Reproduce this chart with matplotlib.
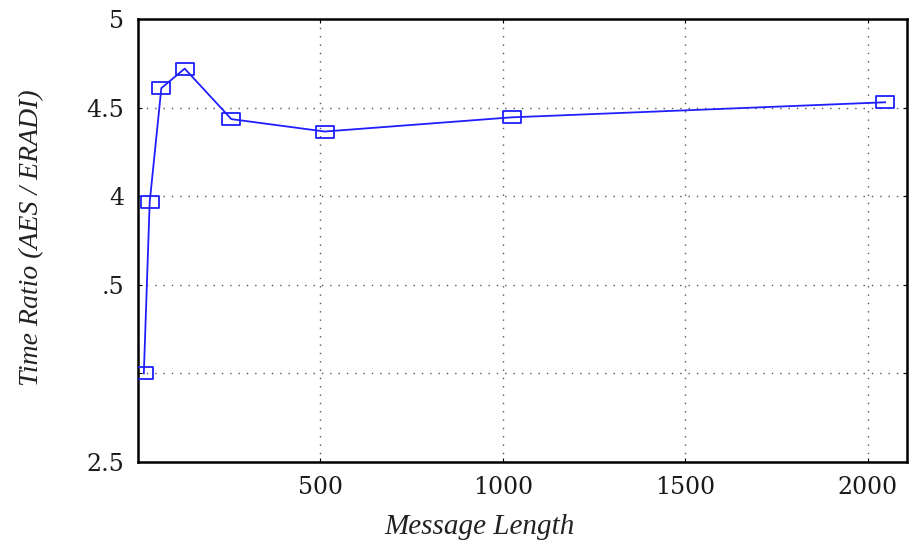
import matplotlib
matplotlib.use("Agg")
import matplotlib.pyplot as plt
from matplotlib.path import Path

msg_len = [16, 32, 64, 128, 256, 512, 1024, 2048]
ratio = [3.00, 3.965, 4.61, 4.72, 4.435, 4.365, 4.445, 4.53]
x_ticks = [500, 1000, 1500, 2000]
x_tick_labels = ["500", "1000", "1500", "2000"]
y_ticks = [2.5, 3.0, 3.5, 4.0, 4.5, 5.0]
y_tick_labels = ["2.5", "", ".5", "4", "4.5", "5"]

fig = plt.figure(figsize=(9.14, 5.42), dpi=100)
ax = fig.add_axes([138/914, 1 - 462/542, (907-138)/914, (462-19)/542])

rect = Path([(-1.6, -1), (1.6, -1), (1.6, 1), (-1.6, 1), (-1.6, -1)],
            [Path.MOVETO, Path.LINETO, Path.LINETO, Path.LINETO, Path.CLOSEPOLY])
ax.plot(msg_len, ratio, color="#1f1fff", lw=1.3, marker=rect, markersize=13,
        markerfacecolor="none", markeredgecolor="#1f1fff", markeredgewidth=1.3,
        zorder=3)

ax.set_xlim(0, 2108)
ax.set_ylim(2.5, 5.0)
ax.set_xticks(x_ticks)
ax.set_xticklabels(x_tick_labels)
ax.set_yticks(y_ticks)
ax.set_yticklabels(y_tick_labels)

ax.grid(True, linestyle=(0, (1, 5)), color="#555555", linewidth=1.0)
ax.tick_params(direction="in", top=True, right=True, length=3, width=0.8,
               labelsize=17, pad=10, labelcolor="#1a1a1a")
for lab in ax.get_xticklabels() + ax.get_yticklabels():
    lab.set_fontfamily("DejaVu Serif")
for sp in ax.spines.values():
    sp.set_linewidth(1.8)
    sp.set_color("black")

fig.text(480/914, 1 - 527/542, "Message Length", fontfamily="Liberation Serif",
         fontstyle="italic", fontsize=21, color="#222222", ha="center", va="center")
fig.text(32/914, 1 - 238/542, "Time Ratio (AES / ERADI)", fontfamily="Liberation Serif",
         fontstyle="italic", fontsize=20, color="#222222", ha="center", va="center",
         rotation=90)

fig.savefig("out.png", dpi=100)
